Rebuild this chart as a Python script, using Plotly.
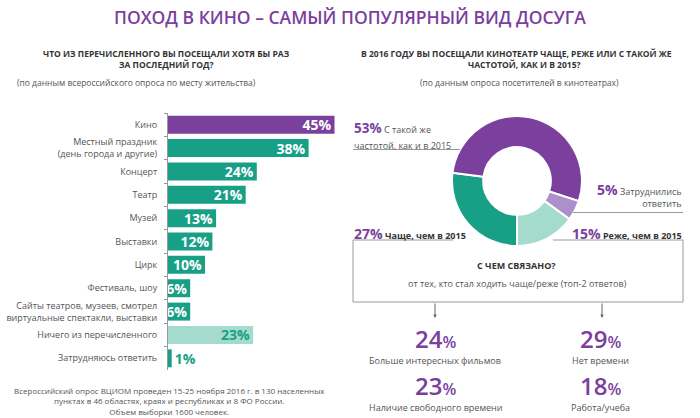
import plotly.graph_objects as go

W, H = 700, 418
PURPLE = "#7B3F9E"
TEAL = "#17A086"
LIGHT_TEAL = "#A5DBCC"
LIGHT_PURPLE = "#AD8FCC"
GREY = "#555555"
DARK = "#333333"
LINE = "#9A9A9A"
FONT = "Open Sans"

# ---- data ----
categories = ["Кино", "Местный праздник<br>(день города и другие)", "Концерт", "Театр",
              "Музей", "Выставки", "Цирк", "Фестиваль, шоу",
              "Сайты театров, музеев, смотрел<br>виртуальные спектакли, выставки",
              "Ничего из перечисленного", "Затрудняюсь ответить"]
values = [45, 38, 24, 21, 13, 12, 10, 6, 6, 23, 1]

# donut, clockwise from 6 o'clock
donut_labels = ["Чаще, чем в 2015", "С такой же частотой, как и в 2015",
                "Затруднились ответить", "Реже, чем в 2015"]
donut_values = [27, 53, 5, 15]
donut_colors = [TEAL, PURPLE, LIGHT_PURPLE, LIGHT_TEAL]

more_reasons = ["Больше интересных фильмов", "Наличие свободного времени"]
more_values = [24, 23]
less_reasons = ["Нет времени", "Работа/учеба"]
less_values = [29, 18]

footer = ["Всероссийский опрос ВЦИОМ проведен 15-25 ноября 2016 г. в 130 населенных",
          "пунктах в 46 областях, краях и республиках и 8 ФО России.",
          "Объем выборки 1600 человек."]


def px(x):
    return x / W


def py(y):
    return 1 - y / H


bar_colors = [PURPLE] + [TEAL] * 8 + [LIGHT_TEAL, TEAL]
text_colors = ["white"] * 9 + [TEAL, TEAL]
text_pos = ["inside"] * 10 + ["outside"]

fig = go.Figure()
fig.add_trace(go.Bar(
    x=values, y=categories, orientation="h",
    marker=dict(color=bar_colors, line=dict(width=0)),
    texttemplate="%{x}%", textposition=text_pos, insidetextanchor="end",
    textfont=dict(color=text_colors, size=14, family=FONT, weight="bold"),
    constraintext="none", cliponaxis=False, hoverinfo="skip",
    xaxis="x", yaxis="y",
))

fig.add_trace(go.Pie(
    labels=donut_labels, values=donut_values, hole=0.52, sort=False,
    direction="clockwise", rotation=180,
    marker=dict(colors=donut_colors, line=dict(color="white", width=2)),
    textinfo="none", hoverinfo="skip", showlegend=False,
    domain=dict(x=[px(452), px(582)], y=[py(247), py(115)]),
))

ann = []


def text(x, y, t, size=9, color=GREY, xanchor="center", yanchor="middle", bold=False,
         weight=None, align="center"):
    ann.append(dict(x=px(x), y=py(y), xref="paper", yref="paper", text=t, showarrow=False,
                    xanchor=xanchor, yanchor=yanchor, align=align, borderpad=0,
                    font=dict(size=size, color=color, family=FONT,
                              weight=weight if weight else ("bold" if bold else "normal"))))


# title
text(350, 17, "ПОХОД В КИНО – САМЫЙ ПОПУЛЯРНЫЙ ВИД ДОСУГА", size=17.5, color=PURPLE, weight=600)
# left header
text(166, 53, "ЧТО ИЗ ПЕРЕЧИСЛЕННОГО ВЫ ПОСЕЩАЛИ ХОТЯ БЫ РАЗ", size=8.5, color=DARK, bold=True)
text(166, 65, "ЗА ПОСЛЕДНИЙ ГОД?", size=8.5, color=DARK, bold=True)
text(136, 82, "(по данным всероссийского опроса по месту жительства)", size=8.5, color=GREY)
# right header
text(516, 53, "В 2016 ГОДУ ВЫ ПОСЕЩАЛИ КИНОТЕАТР ЧАЩЕ, РЕЖЕ ИЛИ С ТАКОЙ ЖЕ", size=8.5, color=DARK, bold=True)
text(524, 65, "ЧАСТОТОЙ, КАК И В 2015?", size=8.5, color=DARK, bold=True)
text(519, 82, "(по данным опроса посетителей в кинотеатрах)", size=8.5, color=GREY)
# footer
text(169, 401, "<br>".join(footer), size=8)


def pct(v, size=14):
    return f"<span style='color:{PURPLE};font-size:{size}px;font-weight:bold'>{v}%</span>"


# donut labels
l53 = donut_labels[1].split(" частотой")
text(353, 138, pct(donut_values[1], 13.5) + " " + l53[0], xanchor="left", yanchor="bottom")
text(353, 138, "частотой" + l53[1], xanchor="left", yanchor="top")
l5 = donut_labels[2].split(" ")
text(683, 211.5, pct(donut_values[2]) + " " + l5[0] + "<br>" + l5[1], xanchor="right",
     yanchor="bottom", align="right")
text(353, 233, pct(donut_values[0]) + " <b>" + donut_labels[0] + "</b>", xanchor="left", color=DARK)
text(683, 233, pct(donut_values[3]) + " <b>" + donut_labels[3] + "</b>", xanchor="right", color=DARK)

# reasons
text(516, 265, "С ЧЕМ СВЯЗАНО?", size=9, color=DARK, bold=True)
text(517, 283, "от тех, кто стал ходить чаще/реже (топ-2 ответов)", size=9)
rows = [338, 385]
for i, (lab, v) in enumerate(zip(more_reasons, more_values)):
    text(435, rows[i], f"{v}<span style='font-size:16px'>%</span>", size=24, color=PURPLE, weight=600)
    text(435, rows[i] + 22, lab, size=9)
for i, (lab, v) in enumerate(zip(less_reasons, less_values)):
    text(600, rows[i], f"{v}<span style='font-size:16px'>%</span>", size=24, color=PURPLE, weight=600)
    text(600, rows[i] + 22, lab, size=9)

# arrows
for ax_x in (435, 602):
    ann.append(dict(x=px(ax_x), y=py(318), xref="paper", yref="paper", ax=0, ay=-16,
                    axref="pixel", ayref="pixel", text="", showarrow=True,
                    arrowhead=2, arrowsize=0.7, arrowwidth=1, arrowcolor="#666"))

shapes = []


def line(x0, y0, x1, y1):
    shapes.append(dict(type="line", xref="paper", yref="paper", x0=px(x0), y0=py(y0),
                       x1=px(x1), y1=py(y1), line=dict(color=LINE, width=1)))


line(353, 149.5, 460, 149.5)
line(573, 212.5, 683, 212.5)
line(353, 240, 453, 240)
line(553, 240, 683, 240)
line(353, 240, 353, 302)
line(683, 240, 683, 302)
line(353, 302, 683, 302)

fig.update_layout(
    width=W, height=H, margin=dict(l=0, r=0, t=0, b=0),
    paper_bgcolor="white", plot_bgcolor="white", showlegend=False,
    bargap=0.23,
    font=dict(family=FONT, color=GREY),
    xaxis=dict(domain=[px(168), px(353)], range=[0, 50], visible=False, fixedrange=True),
    yaxis=dict(domain=[py(370), py(113)], autorange="reversed", showline=True,
               linecolor=LINE, linewidth=1, ticks="outside", ticklen=3, tickcolor=LINE,
               tickson="boundaries", showgrid=False, zeroline=False, fixedrange=True,
               tickfont=dict(size=9, color=GREY, family=FONT), ticklabelstandoff=8),
    annotations=ann, shapes=shapes,
)

fig.write_html("out.html", config={"displayModeBar": False},
               post_script="document.body.style.margin='0';document.body.style.overflow='hidden';")
